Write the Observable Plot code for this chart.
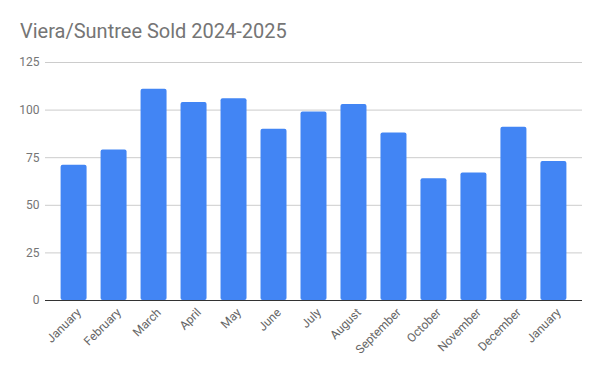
<!DOCTYPE html>
<html><head><meta charset="utf-8">
<script src="https://cdn.jsdelivr.net/npm/d3@7"></script>
<script src="https://cdn.jsdelivr.net/npm/@observablehq/plot@0.6"></script>
<style>
body{margin:0;background:#fff;font-family:Roboto,sans-serif;}
#title{height:50px;box-sizing:border-box;padding:21px 0 0 20px;font-size:20px;line-height:20px;color:#757575;white-space:nowrap;}
</style></head><body>
<div id="title">Viera/Suntree Sold 2024-2025</div>
<div id="chart"></div>
<script>
const months = ["January","February","March","April","May","June","July","August","September","October","November","December","January"];
const sold = [71,79,111,104,106,90,99,103,88,64,67,91,73];
const yTicks = [0,25,50,75,100,125];
const data = months.map((m,i)=>({i, month:m, sold:sold[i]}));

const chart = Plot.plot({
  width:600, height:321,
  marginLeft:45, marginRight:18, marginTop:12, marginBottom:71,
  style:{fontFamily:"Roboto, sans-serif", fontSize:"12px", background:"#fff", overflow:"visible"},
  x:{type:"band", domain:d3.range(months.length), paddingInner:0.35, paddingOuter:0.39, round:false},
  y:{domain:[0,125]},
  marks:[
    Plot.ruleY(yTicks.filter(t=>t>0), {stroke:"#cccccc"}),
    Plot.barY(data, {x:"i", y:"sold", fill:"#4285f4", rx:2}),
    Plot.ruleY([0], {stroke:"#333333"}),
    Plot.axisY(yTicks, {tickSize:0, tickPadding:6, fill:"#757575", label:null}),
    Plot.axisX({tickSize:0, tickPadding:10, dx:5, tickRotate:-45, tickFormat:i=>months[i], fill:"#666666", label:null})
  ]
});
document.getElementById("chart").appendChild(chart);
</script>
</body></html>
